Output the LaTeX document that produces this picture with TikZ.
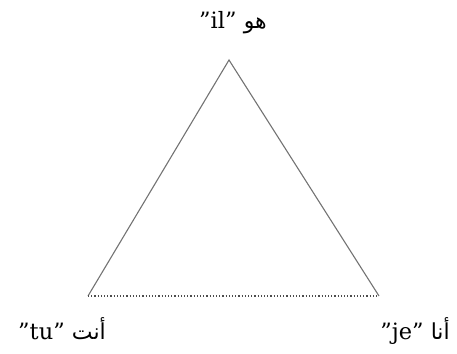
\documentclass[tikz,border=0pt]{standalone}
\usepackage{fontspec}
\setmainfont{DejaVu Serif}
\newfontfamily\arabicfont[Script=Arabic]{DejaVu Sans}
\TeXXeTstate=1
\newcommand{\ar}[1]{{\arabicfont\fontsize{22}{25}\selectfont\beginR #1\endR}}
\begin{document}
\begin{tikzpicture}[x=1pt,y=1pt,
  edge/.style={draw=black!55, line width=1.1pt},
  baseedge/.style={draw=black!70, line width=1.2pt, dotted},
  lbl/.style={font=\fontsize{22.5}{25}\selectfont, inner sep=0pt, anchor=base}]
\useasboundingbox (0,0) rectangle (457,353);
\coordinate (T) at (229,293);
\coordinate (L) at (88,57);
\coordinate (R) at (379,57);
\draw[edge] (L) -- (T) -- (R);
\draw[baseedge] (L) -- (R);
\node[lbl] (il) at (233,324) {\symbol{34}il\symbol{34} \ar{هو}};
\node[lbl] (tu) at (62,14) {\symbol{34}tu\symbol{34} \ar{أنت}};
\node[lbl] (je) at (415,14) {\symbol{34}je\symbol{34} \ar{أنا}};
\end{tikzpicture}
\end{document}
